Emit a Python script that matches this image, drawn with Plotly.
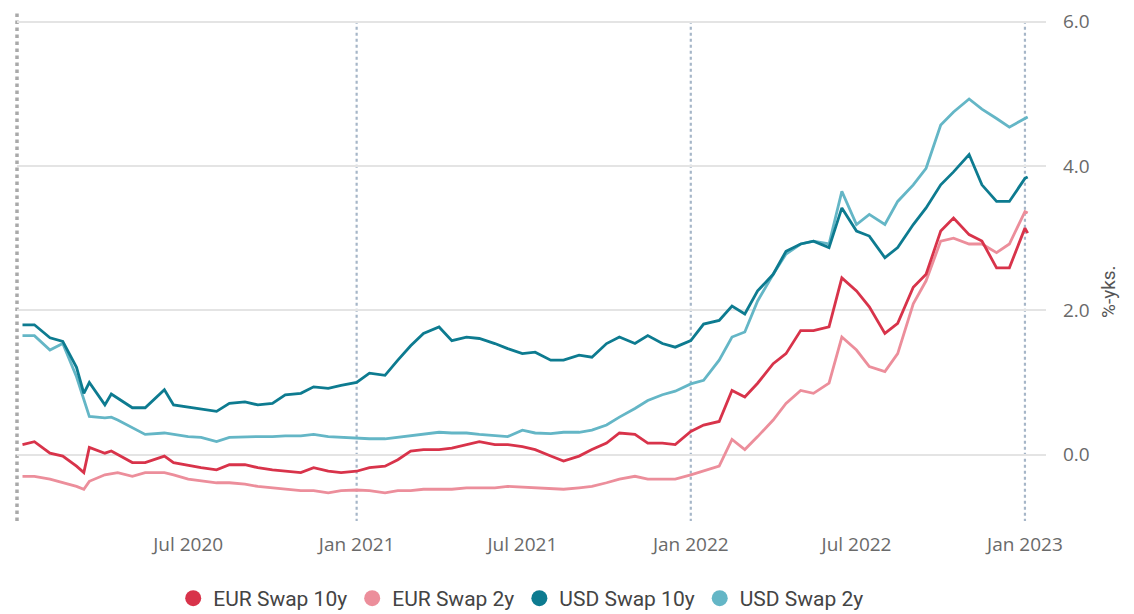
import plotly.graph_objects as go

dates = [
    "2020-01-02", "2020-01-15", "2020-02-01", "2020-02-15", "2020-03-01", "2020-03-09", "2020-03-15",
    "2020-04-01", "2020-04-08", "2020-04-15", "2020-05-01", "2020-05-15", "2020-06-05", "2020-06-15",
    "2020-07-01", "2020-07-15", "2020-08-01", "2020-08-15", "2020-09-01", "2020-09-15",
    "2020-10-01", "2020-10-15", "2020-11-01", "2020-11-15", "2020-12-01", "2020-12-15",
    "2021-01-01", "2021-01-15", "2021-02-01", "2021-02-15", "2021-03-01", "2021-03-15",
    "2021-04-01", "2021-04-15", "2021-05-01", "2021-05-15", "2021-06-01", "2021-06-15",
    "2021-07-01", "2021-07-15", "2021-08-01", "2021-08-15", "2021-09-01", "2021-09-15",
    "2021-10-01", "2021-10-15", "2021-11-01", "2021-11-15", "2021-12-01", "2021-12-15",
    "2022-01-01", "2022-01-15", "2022-02-01", "2022-02-15", "2022-03-01", "2022-03-15",
    "2022-04-01", "2022-04-15", "2022-05-01", "2022-05-15", "2022-06-01", "2022-06-15",
    "2022-07-01", "2022-07-15", "2022-08-01", "2022-08-15", "2022-09-01", "2022-09-15",
    "2022-10-01", "2022-10-15", "2022-11-01", "2022-11-15", "2022-12-01", "2022-12-15",
    "2023-01-01", "2023-01-04",
]

eur_10y = [
    0.14, 0.18, 0.02, -0.02, -0.16, -0.25, 0.10,
    0.02, 0.05, 0.00, -0.11, -0.11, -0.02, -0.11,
    -0.15, -0.18, -0.21, -0.14, -0.14, -0.18,
    -0.21, -0.23, -0.25, -0.18, -0.23, -0.25,
    -0.23, -0.18, -0.16, -0.07, 0.05, 0.07,
    0.07, 0.09, 0.14, 0.18, 0.14, 0.14,
    0.11, 0.07, -0.02, -0.09, -0.02, 0.07,
    0.16, 0.30, 0.28, 0.16, 0.16, 0.14,
    0.32, 0.41, 0.46, 0.89, 0.80, 0.99,
    1.26, 1.40, 1.72, 1.72, 1.77, 2.45,
    2.27, 2.05, 1.68, 1.82, 2.32, 2.50,
    3.10, 3.28, 3.05, 2.96, 2.59, 2.59,
    3.14, 3.07,
]

eur_2y = [
    -0.30, -0.30, -0.34, -0.39, -0.44, -0.48, -0.37,
    -0.28, -0.27, -0.25, -0.30, -0.25, -0.25, -0.28,
    -0.34, -0.36, -0.39, -0.39, -0.41, -0.44,
    -0.46, -0.48, -0.50, -0.50, -0.53, -0.50,
    -0.49, -0.50, -0.53, -0.50, -0.50, -0.48,
    -0.48, -0.48, -0.46, -0.46, -0.46, -0.44,
    -0.45, -0.46, -0.48, -0.48, -0.46, -0.44,
    -0.39, -0.34, -0.30, -0.34, -0.34, -0.34,
    -0.28, -0.23, -0.16, 0.21, 0.07, 0.25,
    0.48, 0.71, 0.89, 0.85, 0.99, 1.63,
    1.45, 1.22, 1.15, 1.40, 2.09, 2.41,
    2.96, 3.00, 2.92, 2.92, 2.80, 2.92,
    3.37, 3.35,
]

usd_10y = [
    1.80, 1.80, 1.62, 1.57, 1.21, 0.85, 1.00,
    0.69, 0.84, 0.78, 0.65, 0.65, 0.90, 0.69,
    0.66, 0.64, 0.60, 0.71, 0.73, 0.69,
    0.71, 0.83, 0.85, 0.94, 0.92, 0.96,
    1.00, 1.13, 1.10, 1.31, 1.51, 1.68,
    1.77, 1.58, 1.63, 1.61, 1.54, 1.47,
    1.40, 1.42, 1.31, 1.31, 1.38, 1.35,
    1.54, 1.63, 1.54, 1.65, 1.54, 1.49,
    1.58, 1.81, 1.86, 2.06, 1.95, 2.27,
    2.50, 2.82, 2.92, 2.96, 2.87, 3.42,
    3.10, 3.03, 2.73, 2.87, 3.19, 3.42,
    3.74, 3.92, 4.16, 3.74, 3.51, 3.51,
    3.83, 3.85,
]

usd_2y = [
    1.65, 1.65, 1.45, 1.54, 1.08, 0.75, 0.53,
    0.51, 0.52, 0.48, 0.37, 0.28, 0.30, 0.28,
    0.25, 0.24, 0.18, 0.24, 0.25, 0.25,
    0.25, 0.26, 0.26, 0.28, 0.25, 0.24,
    0.22, 0.22, 0.22, 0.24, 0.27, 0.29,
    0.31, 0.30, 0.30, 0.28, 0.26, 0.25,
    0.34, 0.30, 0.29, 0.31, 0.31, 0.34,
    0.41, 0.52, 0.64, 0.75, 0.83, 0.88,
    0.98, 1.03, 1.31, 1.63, 1.70, 2.13,
    2.50, 2.78, 2.92, 2.96, 2.92, 3.65,
    3.19, 3.33, 3.19, 3.51, 3.74, 3.97,
    4.57, 4.75, 4.93, 4.79, 4.66, 4.54,
    4.66, 4.68,
]

series_names = ["EUR Swap 10y", "EUR Swap 2y", "USD Swap 10y", "USD Swap 2y"]
series_values = [eur_10y, eur_2y, usd_10y, usd_2y]
colors = ["#d8334a", "#ec8e9b", "#0d7b90", "#64b6c6"]

y_ticks = [0.0, 2.0, 4.0, 6.0]
x_tick_dates = ["2020-07-01", "2021-01-01", "2021-07-01", "2022-01-01", "2022-07-01", "2023-01-01"]
x_tick_labels = ["Jul 2020", "Jan 2021", "Jul 2021", "Jan 2022", "Jul 2022", "Jan 2023"]
marker_dates = ["2021-01-01", "2022-01-01", "2023-01-01"]

fig = go.Figure()

order = [3, 2, 1, 0]
for i in order:
    fig.add_trace(go.Scatter(
        x=dates, y=series_values[i], mode="lines",
        line=dict(color=colors[i], width=2.8),
        showlegend=False, hoverinfo="skip",
    ))
for i in range(4):
    fig.add_trace(go.Scatter(
        x=[None], y=[None], mode="markers", name=series_names[i],
        marker=dict(color=colors[i], size=16, symbol="circle"),
        showlegend=True,
    ))

for d in marker_dates:
    fig.add_shape(type="line", xref="x", yref="y", x0=d, x1=d, y0=-0.93, y1=6.0,
                  line=dict(color="#a6b6c8", width=2.2, dash="dot"), layer="below")

fig.add_shape(type="line", xref="x domain", yref="y domain", x0=0.0, x1=0.0, y0=0, y1=1,
              line=dict(color="#a9a9a9", width=3.5, dash="dot"), layer="below")

fig.add_annotation(text="%-yks.", textangle=-90, xref="paper", yref="paper",
                   x=1.0, xshift=76, y=0.45, showarrow=False,
                   font=dict(size=19, color="#555555", family="Roboto"))

# page body adds an 8px offset, so the figure is sized 8px smaller on each axis
fig.update_layout(
    width=1126, height=606,
    margin=dict(l=9, r=88, t=3, b=93, autoexpand=False),
    plot_bgcolor="white", paper_bgcolor="white",
    font=dict(family="Roboto", color="#666666"),
    xaxis=dict(
        type="date", range=["2019-12-27", "2023-01-24"],
        tickvals=x_tick_dates, ticktext=x_tick_labels,
        showgrid=False, zeroline=False, showline=False, ticks="",
        tickfont=dict(size=19, color="#6a6a6a", family="Open Sans"),
        ticklabelstandoff=10, automargin=False,
    ),
    yaxis=dict(
        side="right", range=[-0.92, 6.15],
        tickvals=y_ticks, tickformat=".1f",
        showgrid=True, gridcolor="#e4e4e4", gridwidth=1.5,
        zeroline=False, showline=False, ticks="",
        tickfont=dict(size=19, color="#6a6a6a", family="Open Sans"),
        ticklabelstandoff=16, automargin=False, ticklabeloverflow="allow",
    ),
    legend=dict(
        orientation="h", x=0.49, xanchor="center", y=-0.152, yanchor="middle",
        font=dict(size=21, color="#444444", family="Roboto"),
        itemwidth=30, tracegroupgap=0,
    ),
    hovermode=False,
)

fig.write_html("out.html")
